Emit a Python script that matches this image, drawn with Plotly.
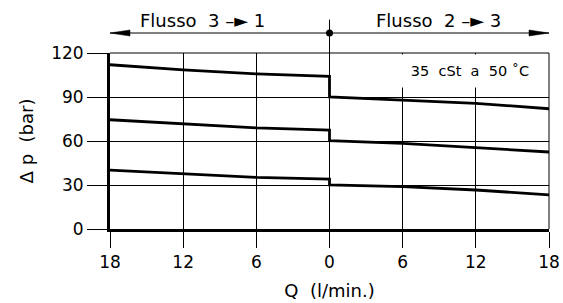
import plotly.graph_objects as go

# Flow values (l/min) for each direction
q_flow31 = [18, 12, 6, 0]   # Flusso 3 -> 1 (left half, drawn to the left)
q_flow23 = [0, 6, 12, 18]   # Flusso 2 -> 3 (right half)

# Pressure drop (bar)
dp_high_31 = [112, 108.5, 105.7, 104]
dp_high_23 = [90, 88, 85.7, 82]
dp_mid_31 = [74.5, 71.6, 69, 67.5]
dp_mid_23 = [60.2, 58.4, 55.7, 52.5]
dp_low_31 = [40.2, 37.5, 35.2, 34]
dp_low_23 = [30, 28.9, 26.6, 23.3]

x_ticks = [-18, -12, -6, 0, 6, 12, 18]
x_ticktext = ["18", "12", "6", "0", "6", "12", "18"]
y_ticks = [0, 30, 60, 90, 120]

FONT = "DejaVu Sans"

fig = go.Figure()
x_all = [-q for q in q_flow31] + q_flow23
for left, right in [(dp_high_31, dp_high_23), (dp_mid_31, dp_mid_23), (dp_low_31, dp_low_23)]:
    fig.add_trace(go.Scatter(x=x_all, y=left + right, mode="lines",
                             line=dict(color="black", width=2.8), showlegend=False,
                             hoverinfo="skip"))

ya = 1.1136  # arrow line height (paper)
shapes = [
    # top and right border
    dict(type="line", xref="paper", yref="paper", x0=0, x1=1, y0=1, y1=1,
         line=dict(color="black", width=1)),
    dict(type="line", xref="paper", yref="paper", x0=1, x1=1, y0=0, y1=1,
         line=dict(color="black", width=1)),
    # extension of x=0 line above the plot
    dict(type="line", xref="x", yref="paper", x0=0, x1=0, y0=1, y1=1.19,
         line=dict(color="black", width=1)),
    # flow direction line
    dict(type="line", xref="x", yref="paper", x0=-18, x1=18, y0=ya, y1=ya,
         line=dict(color="black", width=1)),
    dict(type="path", xref="x", yref="paper", xsizemode="pixel", ysizemode="pixel",
         xanchor=-18, yanchor=ya, path="M0,0 L20,3 L20,-3 Z",
         fillcolor="black", line=dict(color="black", width=0.5)),
    dict(type="path", xref="x", yref="paper", xsizemode="pixel", ysizemode="pixel",
         xanchor=18, yanchor=ya, path="M0,0 L-20,3 L-20,-3 Z",
         fillcolor="black", line=dict(color="black", width=0.5)),
    dict(type="circle", xref="x", yref="paper", xsizemode="pixel", ysizemode="pixel",
         xanchor=0, yanchor=ya, x0=-3.5, x1=3.5, y0=-3.5, y1=3.5,
         fillcolor="black", line=dict(color="black", width=0)),
]

annotations = [
    dict(text="Flusso  3 \u2013\u25BA 1", xref="x", yref="paper", x=-10.4, y=1.182,
         yanchor="middle", showarrow=False, font=dict(family=FONT, size=18, color="black")),
    dict(text="Flusso  2 \u2013\u25BA 3", xref="x", yref="paper", x=8.9, y=1.182,
         yanchor="middle", showarrow=False, font=dict(family=FONT, size=18, color="black")),
    dict(text="35  cSt  a  50 \u02DAC", xref="x", yref="y", x=11.5, y=107.5,
         showarrow=False, bgcolor="white", height=30, width=134,
         font=dict(family=FONT, size=14.5, color="black")),
]

fig.update_layout(
    width=563, height=303,
    margin=dict(l=110, r=14, t=53, b=74),
    paper_bgcolor="white", plot_bgcolor="white",
    font=dict(family=FONT, size=17, color="black"),
    shapes=shapes, annotations=annotations,
    xaxis=dict(range=[-18, 18], tickvals=x_ticks, ticktext=x_ticktext,
               automargin=False,
               showgrid=True, gridcolor="black", gridwidth=1, zeroline=False,
               showline=True, linecolor="black", linewidth=3,
               ticks="outside", ticklen=16, tickcolor="black", tickwidth=1,
               title=dict(text="Q  (l/min.)", standoff=13,
                          font=dict(family=FONT, size=18))),
    yaxis=dict(range=[0, 120], tickvals=y_ticks,
               automargin=False,
               showgrid=True, gridcolor="black", gridwidth=1, zeroline=False,
               showline=True, linecolor="black", linewidth=3,
               ticks="outside", ticklen=20, tickcolor="black", tickwidth=1,
               title=dict(text="\u0394 p  (bar)", standoff=13,
                          font=dict(family=FONT, size=18))),
)

fig.write_html("out.html", config={"displayModeBar": False},
               post_script="document.body.style.margin='0';document.body.style.overflow='hidden';")
